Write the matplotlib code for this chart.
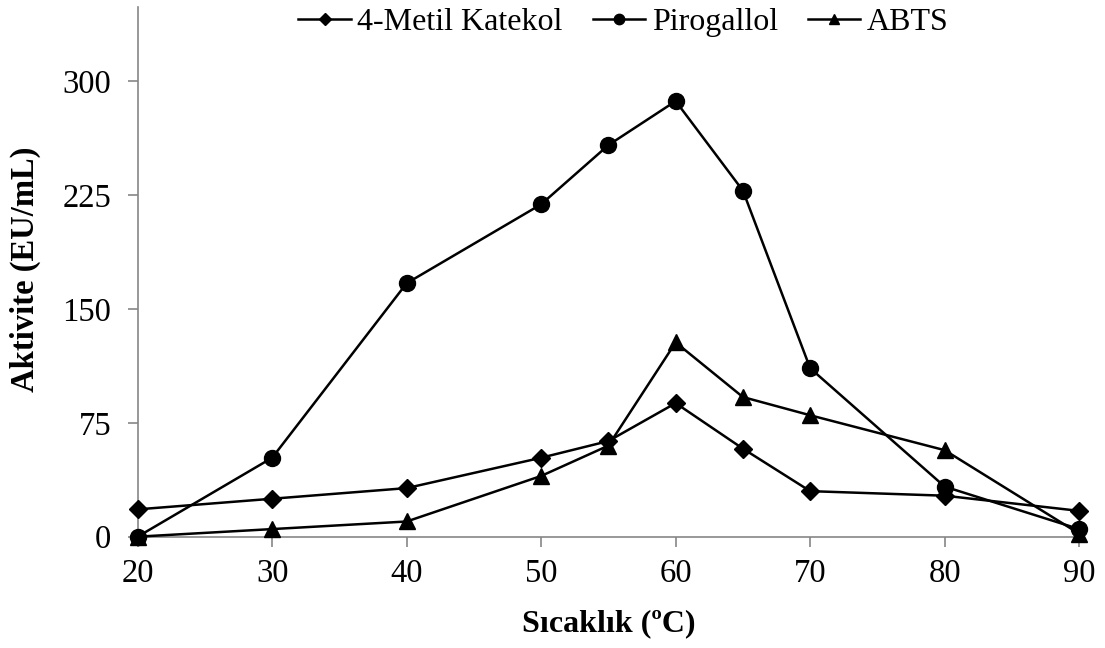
import matplotlib
matplotlib.use("Agg")
import matplotlib.pyplot as plt

temps = [20, 30, 40, 50, 55, 60, 65, 70, 80, 90]
metil_katekol = [18, 25, 32, 52, 63, 88, 58, 30, 27, 17]
pirogallol = [0, 52, 167, 219, 258, 287, 228, 111, 33, 5]
abts = [0, 5, 10, 40, 60, 128, 92, 80, 57, 2]
yticks = [0, 75, 150, 225, 300]
xticks = [20, 30, 40, 50, 60, 70, 80, 90]

plt.rcParams['font.family'] = ['Liberation Serif', 'DejaVu Serif']

fig = plt.figure(figsize=(11.05, 6.48), dpi=100)
ax = fig.add_axes([0.1246, 0.1718, 0.852, 0.8174])

lw = 1.8
ax.plot(temps, metil_katekol, color='black', lw=lw, marker='D', ms=9, label='4-Metil Katekol', clip_on=False, zorder=3)
ax.plot(temps, pirogallol, color='black', lw=lw, marker='o', ms=11.5, label='Pirogallol', clip_on=False, zorder=3)
ax.plot(temps, abts, color='black', lw=lw, marker='^', ms=11.5, label='ABTS', clip_on=False, zorder=3)

ax.set_xlim(20, 90)
ax.set_ylim(0, 349)
ax.set_xticks(xticks)
ax.set_yticks(yticks)
for s in ['top', 'right']:
    ax.spines[s].set_visible(False)
for s in ['left', 'bottom']:
    ax.spines[s].set_color('#868686')
    ax.spines[s].set_linewidth(1.2)
ax.tick_params(axis='both', colors='#868686', labelcolor='black', labelsize=23.5, length=7, width=1.2)
ax.tick_params(axis='x', pad=9)
ax.tick_params(axis='y', pad=12)

ax.set_xlabel('Sıcaklık (ºC)', fontsize=23, fontweight='bold', labelpad=14)
ax.set_ylabel('Aktivite (EU/mL)', fontsize=23.5, fontweight='bold')
ax.yaxis.set_label_coords(-0.103, 0.505)

leg = ax.legend(loc='upper center', bbox_to_anchor=(0.516, 1.0225), ncol=3, frameon=False,
                fontsize=23, handlelength=1.64, handletextpad=0.2, columnspacing=0.95,
                markerscale=0.65, borderaxespad=0)

fig.savefig('out.png', dpi=100)
